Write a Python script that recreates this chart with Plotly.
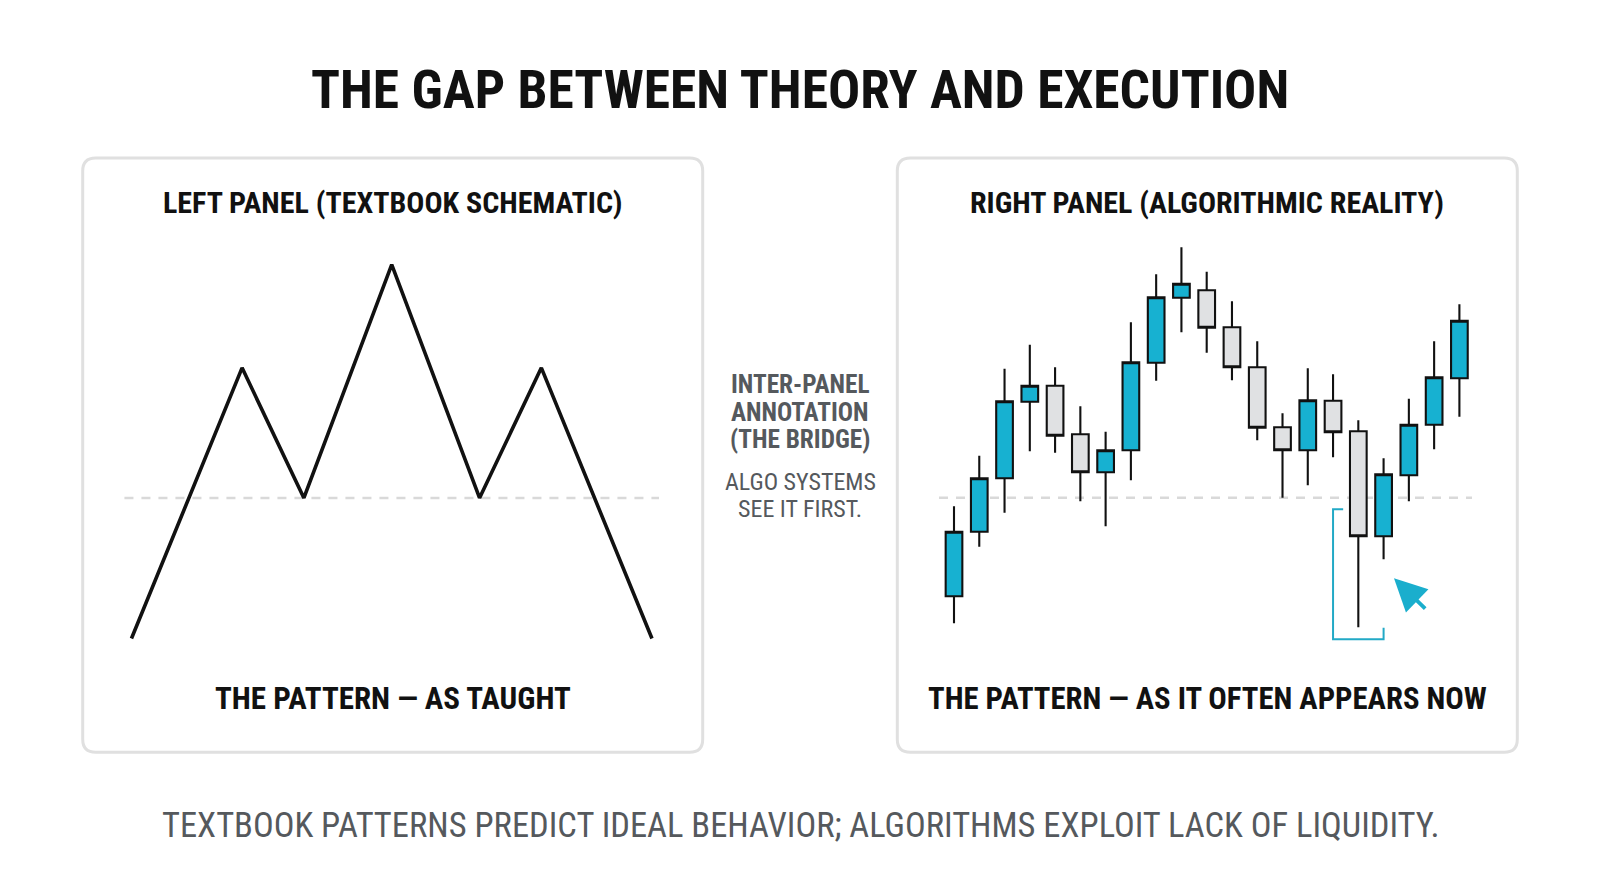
import plotly.graph_objects as go

W, H = 1600, 893

# ---------------- data ----------------
schem_x = [0, 1.7, 2.65, 4, 5.35, 6.3, 8]
schem_y = [0, 72.4, 37.6, 100, 37.6, 72.4, 0]
schem_neck = 37.6

candle_idx = list(range(1, 22))
c_open = [80.3, 93.2, 103.9, 119.2, 122.4, 112.7, 105.1, 109.5, 127.0, 140.0, 141.5,
          134.1, 126.1, 114.1, 109.5, 119.4, 113.3, 92.3, 104.5, 114.6, 123.9]
c_high = [98.3, 108.4, 125.8, 130.6, 126.1, 118.3, 113.2, 135.1, 144.7, 150.1, 145.2,
          139.3, 131.3, 116.9, 125.9, 124.7, 115.5, 107.9, 119.8, 131.3, 138.7]
c_low = [74.9, 90.2, 97.0, 109.3, 109.0, 99.3, 94.3, 103.5, 123.4, 133.1, 129.0,
         123.5, 111.5, 100.0, 102.5, 108.1, 74.1, 87.7, 99.3, 109.7, 116.2]
c_close = [93.2, 103.9, 119.3, 122.4, 112.4, 105.1, 109.5, 127.1, 140.1, 142.8, 134.0,
           126.1, 114.0, 109.5, 119.5, 113.1, 92.3, 104.7, 114.6, 124.1, 135.4]
candle_neck = 100.0

title_text = "THE GAP BETWEEN THEORY AND EXECUTION"
left_title = "LEFT PANEL (TEXTBOOK SCHEMATIC)"
right_title = "RIGHT PANEL (ALGORITHMIC REALITY)"
left_caption = "THE PATTERN — AS TAUGHT"
right_caption = "THE PATTERN — AS IT OFTEN APPEARS NOW"
bridge_bold = ["INTER-PANEL", "ANNOTATION", "(THE BRIDGE)"]
bridge_reg = ["ALGO SYSTEMS", "SEE IT FIRST."]
footer_text = "TEXTBOOK PATTERNS PREDICT IDEAL BEHAVIOR; ALGORITHMS EXPLOIT LACK OF LIQUIDITY."

# ---------------- styles ----------------
FONT = "Roboto Condensed, Liberation Sans Narrow, Arial Narrow, DejaVu Sans Condensed, Roboto, sans-serif"
BLUE = "#17b1d1"
GRAYFILL = "#e0e1e3"
INK = "#111111"
TEAL = "#22a9c6"
ARROW = "#1aaecd"
BORDER = "#e0e0e0"
SUBINK = "#55595d"


def px(x):
    return x / W


def py(y):
    return 1 - y / H


fig = go.Figure()

fig.add_trace(go.Scatter(
    x=schem_x, y=schem_y, mode="lines",
    line=dict(color=INK, width=3.6), hoverinfo="skip", showlegend=False,
    xaxis="x", yaxis="y"))

fig.add_trace(go.Candlestick(
    x=candle_idx, open=c_open, high=c_high, low=c_low, close=c_close,
    increasing=dict(fillcolor=BLUE, line=dict(color=INK, width=2.1)),
    decreasing=dict(fillcolor=GRAYFILL, line=dict(color=INK, width=2.1)),
    whiskerwidth=0, showlegend=False, hoverinfo="skip",
    xaxis="x2", yaxis="y2"))


def rrect(x0, y0, x1, y1, r):
    pts = [
        ("M", (x0 + r, y0)), ("L", (x1 - r, y0)), ("Q", (x1, y0), (x1, y0 + r)),
        ("L", (x1, y1 - r)), ("Q", (x1, y1), (x1 - r, y1)),
        ("L", (x0 + r, y1)), ("Q", (x0, y1), (x0, y1 - r)),
        ("L", (x0, y0 + r)), ("Q", (x0, y0), (x0 + r, y0)),
    ]
    s = ""
    for p in pts:
        s += p[0] + " " + " ".join(f"{px(a):.5f},{py(b):.5f}" for a, b in p[1:]) + " "
    return s + "Z"


shapes = [
    dict(type="path", xref="paper", yref="paper", path=rrect(82.7, 158, 702.7, 752.3, 13),
         line=dict(color=BORDER, width=3), fillcolor="rgba(0,0,0,0)", layer="below"),
    dict(type="path", xref="paper", yref="paper", path=rrect(897.3, 158, 1517.3, 752.3, 13),
         line=dict(color=BORDER, width=3), fillcolor="rgba(0,0,0,0)", layer="below"),
    dict(type="line", xref="x", yref="y", x0=-0.108, x1=8.108, y0=schem_neck, y1=schem_neck,
         line=dict(color="#d9d9d9", width=2.5, dash="9px,8px"), layer="below"),
    dict(type="line", xref="x2", yref="y2", x0=0.406, x1=21.5, y0=candle_neck, y1=candle_neck,
         line=dict(color="#d9d9d9", width=2.5, dash="9px,8px"), layer="below"),
]

# bracket around the liquidity sweep candle (lowest low)
i_min = c_low.index(min(c_low))
bx = candle_idx[i_min]
b_top = candle_neck - 2.3
b_bot = min(c_low) - 2.4
shapes.append(dict(
    type="path", xref="x2", yref="y2",
    path=f"M {bx - 0.6},{b_top} L {bx - 1},{b_top} L {bx - 1},{b_bot} L {bx + 1},{b_bot} L {bx + 1},{b_bot + 2.3}",
    line=dict(color=TEAL, width=2)))

annotations = []


def txt(text, x, y, size, color=INK, bold=False):
    annotations.append(dict(
        text=f"<b>{text}</b>" if bold else text, xref="paper", yref="paper",
        x=px(x), y=py(y), xanchor="center", yanchor="middle", showarrow=False,
        font=dict(family=FONT, size=size, color=color)))


txt(title_text, 800, 89.5, 53.5, bold=True)
txt(left_title, 392.7, 202, 30, bold=True)
txt(right_title, 1207.3, 202, 30, bold=True)
txt(left_caption, 392.7, 698, 31, bold=True)
txt(right_caption, 1207.3, 698, 30.7, bold=True)
for k, line in enumerate(bridge_bold):
    txt(line, 800, 384.7 + k * 27.5, 25.3, color=SUBINK, bold=True)
for k, line in enumerate(bridge_reg):
    txt(line, 800, 481.6 + k * 27.5, 24, color=SUBINK)
txt(footer_text, 800, 824.5, 34.5, color=SUBINK)

annotations.append(dict(
    x=px(1394), y=py(578.3), xref="paper", yref="paper", text="",
    showarrow=True, ax=32.7, ay=31.7, axref="pixel", ayref="pixel",
    arrowhead=2, arrowsize=1.7, arrowwidth=3.8, arrowcolor=ARROW, standoff=0))

fig.update_layout(
    width=W, height=H, autosize=False,
    margin=dict(l=0, r=0, t=0, b=0),
    paper_bgcolor="white", plot_bgcolor="rgba(0,0,0,0)",
    showlegend=False, hovermode=False,
    xaxis=dict(domain=[px(110), px(675)], range=[-0.33, 8.354], visible=False, fixedrange=True),
    yaxis=dict(domain=[py(660), py(240)], range=[-5.75, 106.6], visible=False, fixedrange=True),
    xaxis2=dict(domain=[px(916.1), px(1497.3)], range=[-0.5, 22.5], visible=False,
                rangeslider=dict(visible=False), fixedrange=True),
    yaxis2=dict(domain=[py(650), py(230)], range=[69.54, 153.54], visible=False, fixedrange=True),
    boxgap=0.34, boxgroupgap=0,
    shapes=shapes, annotations=annotations,
)

fig.write_html("out.html", config={"displayModeBar": False},
               post_script="document.body.style.margin='0';document.body.style.overflow='hidden';")
